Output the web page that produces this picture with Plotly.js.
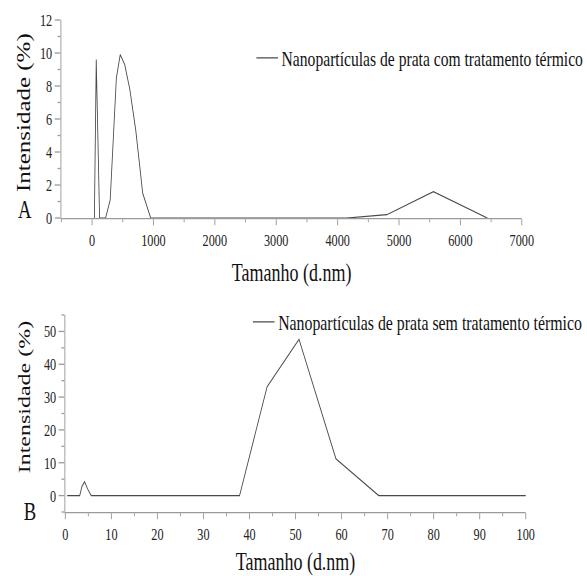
<!DOCTYPE html>
<html>
<head>
<meta charset="utf-8">
<script src="https://cdn.plot.ly/plotly-3.0.1.min.js"></script>
<style>
html, body { margin: 0; padding: 0; overflow: hidden; background: #fff; width: 587px; height: 576px; }
#wrap { width: 587px; height: 576px; overflow: hidden; position: relative; }
#chart { width: 815px; height: 576px; transform: scaleX(0.7202); transform-origin: 0 0; position: absolute; left: 0; top: 0; }
</style>
</head>
<body>
<div id="wrap"><div id="chart"></div></div>
<script>
// Panel A: silver nanoparticles with heat treatment (size in d.nm, intensity in %)
const sizesA = [37.84, 68.06, 122.4, 220.2, 295.3, 396.1, 458.7, 531.2, 615.1, 712.4, 825, 955.4, 4145, 4801, 5560, 6439];
const intensityA = [0, 9.6, 0, 0, 1.1, 8.5, 9.9, 9.3, 7.8, 5.3, 1.5, 0, 0, 0.2, 1.6, 0];
const labelA = "Nanopartículas de prata com tratamento térmico";

// Panel B: silver nanoparticles without heat treatment
const sizesB = [0.4, 3.122, 3.615, 4.187, 4.849, 5.615, 37.84, 43.82, 50.75, 58.77, 68.06, 105.7];
const intensityB = [0, 0, 2.8, 4.2, 2.0, 0, 0, 33.1, 47.6, 11.2, 0, 0];
const labelB = "Nanopartículas de prata sem tratamento térmico";

const xTitle = "Tamanho (d.nm)";
const yTitle = "Intensidade (%)";
const panelLabels = ["A", "B"];

const FONT = '"Liberation Serif", "Times New Roman", serif';
const AX = '#9a9a9a';
const LINE = '#4a4a4a';

const traces = [
  { x: sizesA, y: intensityA, type: 'scatter', mode: 'lines', name: labelA,
    line: { color: LINE, width: 1.2 }, xaxis: 'x', yaxis: 'y', legend: 'legend' },
  { x: sizesB, y: intensityB, type: 'scatter', mode: 'lines', name: labelB,
    line: { color: LINE, width: 1.2 }, xaxis: 'x2', yaxis: 'y2', legend: 'legend2' }
];

function axisBase(extra) {
  return Object.assign({
    showline: true, linecolor: AX, linewidth: 1.3, mirror: false,
    showgrid: false, zeroline: false,
    ticks: 'outside', tickcolor: AX, tickwidth: 1.3,
    tickfont: { family: FONT, size: 17, color: '#222' },
    automargin: false, fixedrange: true
  }, extra);
}

const layout = {
  width: 815, height: 576,
  margin: { l: 0, r: 0, t: 0, b: 0 },
  paper_bgcolor: '#fff', plot_bgcolor: '#fff',
  font: { family: FONT, color: '#222', size: 17 },
  showlegend: true,
  xaxis: axisBase({
    domain: [0.1056, 0.8978], range: [-500, 7000], anchor: 'y',
    tick0: 0, dtick: 1000, ticklen: 6, ticklabelstandoff: 0,
    minor: { tick0: 0, dtick: 500, ticks: 'outside', ticklen: 3, tickcolor: AX, tickwidth: 1.3 },
    title: { text: xTitle, font: { family: FONT, size: 25, color: '#111' }, standoff: 14 }
  }),
  yaxis: axisBase({
    domain: [0.6215, 0.9653], range: [0, 12], anchor: 'x',
    tick0: 0, dtick: 2, ticklen: 8,
    minor: { tick0: 0, dtick: 1, ticks: 'outside', ticklen: 4, tickcolor: AX, tickwidth: 1.3 }
  }),
  xaxis2: axisBase({
    domain: [0.1124, 0.9046], range: [0, 100], anchor: 'y2',
    tick0: 0, dtick: 10, ticklen: 6, ticklabelstandoff: 0,
    minor: { tick0: 0, dtick: 5, ticks: 'outside', ticklen: 3, tickcolor: AX, tickwidth: 1.3 },
    title: { text: xTitle, font: { family: FONT, size: 25, color: '#111' }, standoff: 28 }
  }),
  yaxis2: axisBase({
    domain: [0.1111, 0.4531], range: [-5, 55], anchor: 'x2',
    tick0: 0, dtick: 10, ticklen: 8,
    minor: { tick0: 0, dtick: 5, ticks: 'outside', ticklen: 4, tickcolor: AX, tickwidth: 1.3 }
  }),
  legend: {
    x: 0.435, y: 0.899, xanchor: 'left', yanchor: 'middle',
    bgcolor: 'rgba(0,0,0,0)', borderwidth: 0,
    font: { family: FONT, size: 21.7, color: '#111' }
  },
  legend2: {
    x: 0.429, y: 0.441, xanchor: 'left', yanchor: 'middle',
    bgcolor: 'rgba(0,0,0,0)', borderwidth: 0,
    font: { family: FONT, size: 22, color: '#111' }
  },
  annotations: [
    { text: yTitle, xref: 'paper', yref: 'paper', x: 0.0417, y: 0.8047, textangle: -90,
      xanchor: 'center', yanchor: 'middle', showarrow: false,
      font: { family: FONT, size: 25, color: '#111' } },
    { text: yTitle, xref: 'paper', yref: 'paper', x: 0.0417, y: 0.3113, textangle: -90,
      xanchor: 'center', yanchor: 'middle', showarrow: false,
      font: { family: FONT, size: 24, color: '#111' } },
    { text: panelLabels[0], xref: 'paper', yref: 'paper', x: 0.0426, y: 0.637,
      xanchor: 'center', yanchor: 'middle', showarrow: false,
      font: { family: FONT, size: 26, color: '#111' } },
    { text: panelLabels[1], xref: 'paper', yref: 'paper', x: 0.0512, y: 0.112,
      xanchor: 'center', yanchor: 'middle', showarrow: false,
      font: { family: FONT, size: 26, color: '#111' } }
  ]
};

Plotly.newPlot('chart', traces, layout, { staticPlot: true, displayModeBar: false, responsive: false });
</script>
</body>
</html>
